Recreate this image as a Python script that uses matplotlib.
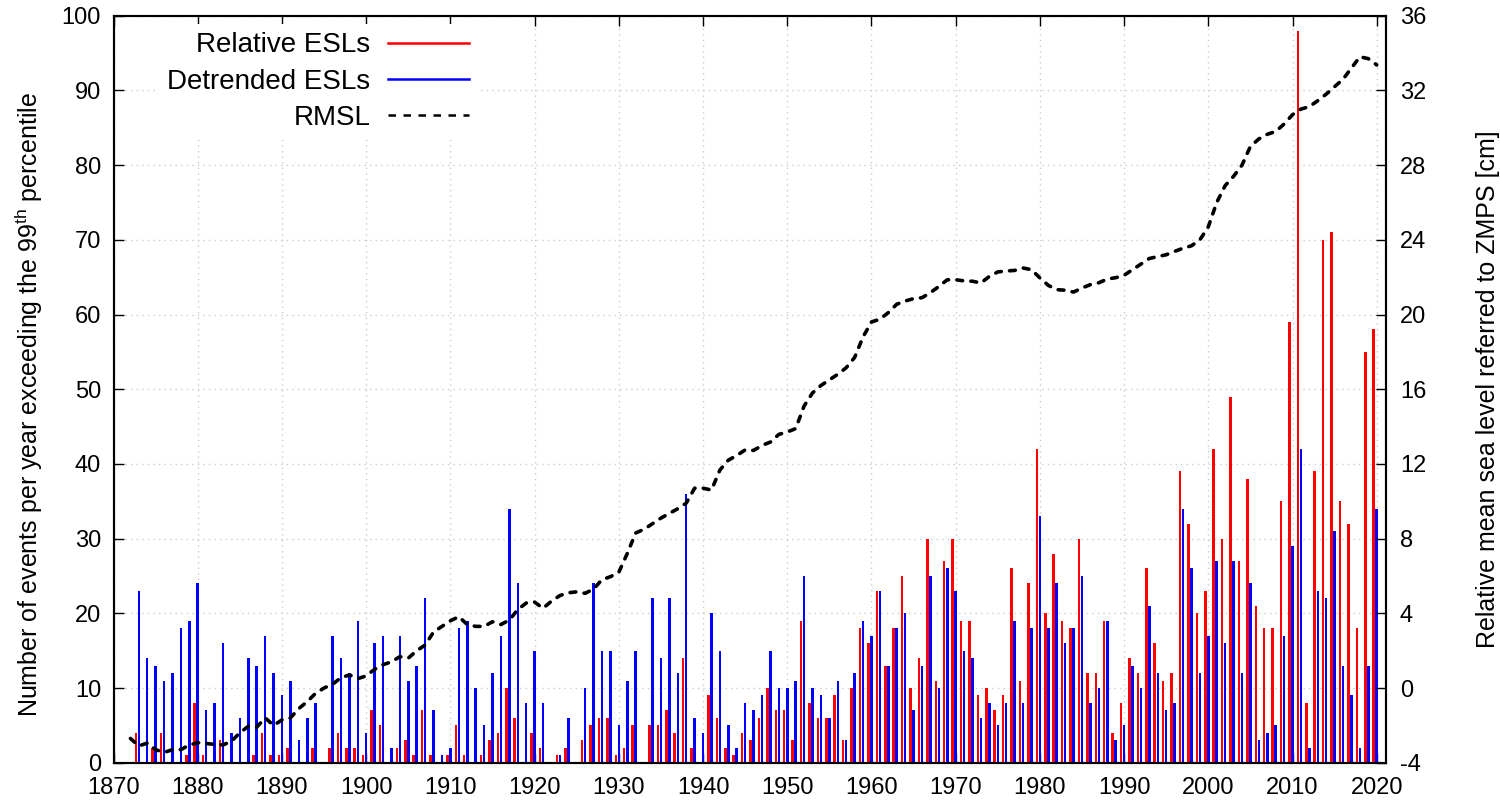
import matplotlib
matplotlib.use("Agg")
import matplotlib.pyplot as plt
import numpy as np
from matplotlib.lines import Line2D

plt.rcParams['font.family'] = ['Liberation Sans', 'DejaVu Sans']
plt.rcParams['axes.unicode_minus'] = False
plt.rcParams['mathtext.fontset'] = 'custom'
plt.rcParams['mathtext.rm'] = 'Liberation Sans'
plt.rcParams['mathtext.it'] = 'Liberation Sans'

years = list(range(1872, 2021))

relative_esl = [
    0, 4, 0, 2, 4, 0, 0, 1, 8, 1,        # 1872-1881
    0, 3, 0, 0, 0, 1, 4, 1, 1, 2,        # 1882-1891
    0, 0, 2, 0, 2, 4, 2, 2, 1, 7,        # 1892-1901
    5, 0, 2, 3, 1, 7, 1, 0, 1, 5,        # 1902-1911
    1, 0, 1, 3, 4, 10, 6, 0, 4, 2,       # 1912-1921
    0, 1, 2, 0, 3, 5, 6, 6, 1, 2,        # 1922-1931
    5, 0, 5, 5, 7, 4, 14, 2, 0, 9,       # 1932-1941
    6, 2, 1, 4, 3, 6, 10, 7, 7, 3,       # 1942-1951
    19, 8, 6, 6, 9, 3, 10, 18, 16, 23,  # 1952-1961
    13, 18, 25, 10, 14, 30, 11, 27, 30, 19,  # 1962-1971
    19, 9, 10, 7, 9, 26, 11, 24, 42, 20,     # 1972-1981
    28, 19, 18, 30, 12, 12, 19, 4, 8, 14,    # 1982-1991
    12, 26, 16, 11, 12, 39, 32, 20, 23, 42,  # 1992-2001
    30, 49, 27, 38, 21, 18, 18, 35, 59, 98,  # 2002-2011
    8, 39, 70, 71, 35, 32, 18, 55, 58,       # 2012-2020
]

detrended_esl = [
    0, 23, 14, 13, 11, 12, 18, 19, 24, 7,    # 1872-1881
    8, 16, 4, 6, 14, 13, 17, 12, 9, 11,      # 1882-1891
    3, 6, 8, 0, 17, 14, 12, 19, 4, 16,       # 1892-1901
    17, 2, 17, 11, 13, 22, 7, 1, 2, 18,      # 1902-1911
    19, 10, 5, 12, 17, 34, 24, 8, 15, 8,     # 1912-1921
    0, 1, 6, 0, 10, 24, 15, 15, 5, 11,       # 1922-1931
    15, 0, 22, 14, 22, 12, 36, 6, 4, 20,     # 1932-1941
    15, 5, 2, 8, 7, 9, 15, 10, 10, 11,       # 1942-1951
    25, 10, 9, 6, 11, 3, 12, 19, 17, 23,     # 1952-1961
    13, 18, 20, 7, 13, 25, 10, 26, 23, 15,   # 1962-1971
    14, 6, 8, 5, 8, 19, 8, 18, 33, 18,       # 1972-1981
    24, 16, 18, 25, 8, 10, 19, 3, 5, 13,     # 1982-1991
    10, 21, 12, 7, 8, 34, 26, 12, 17, 27,    # 1992-2001
    16, 27, 12, 24, 3, 4, 5, 17, 29, 42,     # 2002-2011
    2, 23, 22, 31, 13, 9, 2, 13, 34,         # 2012-2020
]

rmsl = [
    -2.7, -3.1, -2.95, -3.3, -3.45, -3.3, -3.3, -3.05, -2.93, -2.97,   # 1872-1881
    -3.02, -3.05, -2.85, -2.4, -2.05, -2.1, -1.6, -2.0, -1.71, -1.6,   # 1882-1891
    -1.1, -0.73, -0.28, 0.0, 0.2, 0.55, 0.7, 0.5, 0.65, 1.0,           # 1892-1901
    1.25, 1.4, 1.68, 1.6, 2.0, 2.3, 3.0, 3.3, 3.6, 3.82,               # 1902-1911
    3.4, 3.3, 3.3, 3.55, 3.4, 3.64, 4.2, 4.55, 4.6, 4.27,              # 1912-1921
    4.65, 4.95, 5.1, 5.15, 5.07, 5.3, 5.8, 5.96, 6.2, 7.2,             # 1922-1931
    8.3, 8.5, 8.8, 9.1, 9.35, 9.6, 9.9, 10.7, 10.7, 10.6,              # 1932-1941
    11.67, 12.2, 12.45, 12.75, 12.72, 12.99, 13.17, 13.58, 13.71, 13.89,  # 1942-1951
    15.1, 15.8, 16.2, 16.5, 16.8, 17.15, 17.7, 18.8, 19.6, 19.75,      # 1952-1961
    20.1, 20.55, 20.72, 20.85, 20.9, 21.17, 21.5, 21.86, 21.86, 21.8,  # 1962-1971
    21.78, 21.69, 22.04, 22.28, 22.33, 22.36, 22.49, 22.4, 21.96, 21.56,  # 1972-1981
    21.33, 21.3, 21.2, 21.42, 21.6, 21.7, 21.9, 21.97, 22.1, 22.4,     # 1982-1991
    22.7, 23.0, 23.1, 23.2, 23.38, 23.55, 23.68, 24.0, 24.7, 26.0,     # 1992-2001
    26.9, 27.4, 28.0, 29.0, 29.4, 29.65, 29.8, 30.2, 30.7, 31.0,       # 2002-2011
    31.13, 31.45, 31.8, 32.2, 32.6, 33.2, 33.8, 33.7, 33.36,           # 2012-2020
]

x_ticks = list(range(1870, 2021, 10))
left_ticks = list(range(0, 101, 10))
right_ticks = list(range(-4, 37, 4))

fig = plt.figure(figsize=(15, 8.01), dpi=100)
ax = fig.add_axes([0.0757, 0.0478, 0.9240 - 0.0757, 0.9804 - 0.0478])

yrs = np.array(years)
bar_w = 0.30
ax.bar(yrs - 0.36, relative_esl, width=bar_w, color='#ff0000', linewidth=0, zorder=3)
ax.bar(yrs, detrended_esl, width=bar_w, color='#0000ff', linewidth=0, zorder=3)

ax.set_xlim(1870, 2021.1)
ax.set_ylim(0, 100)
ax.set_xticks(x_ticks)
ax.set_yticks(left_ticks)
ax.grid(True, linestyle=(0, (1, 3)), color='#cccccc', linewidth=1.0, zorder=0)
ax.set_axisbelow(True)
ax.tick_params(axis='x', direction='in', length=7, width=1, top=True, labelsize=17, pad=10)
ax.tick_params(axis='y', direction='in', length=7, width=1, right=False, labelsize=17, pad=9)
for s in ax.spines.values():
    s.set_linewidth(1.5)
ax.set_ylabel('Number of events per year exceeding the 99$^{\\mathrm{th}}$ percentile',
              fontsize=18, labelpad=12)
ax.yaxis.label.set_y(0.479)

ax2 = ax.twinx()
ax2.plot(years, rmsl, color='black', linewidth=2.6, linestyle=(0, (1.6, 2.3)),
         dash_capstyle='round', zorder=4)
ax2.set_ylim(-4, 36)
ax2.set_yticks(right_ticks)
ax2.tick_params(axis='y', direction='in', length=7, width=1, labelsize=17, pad=10)
for s in ax2.spines.values():
    s.set_linewidth(1.5)
ax2.set_ylabel('Relative mean sea level referred to ZMPS [cm]', fontsize=18, labelpad=36)

handles = [
    Line2D([], [], color='#ff0000', linewidth=1.8),
    Line2D([], [], color='#0000ff', linewidth=1.8),
    Line2D([], [], color='black', linewidth=1.8, linestyle=(0, (3.0, 3.0))),
]
labels = ['Relative ESLs', 'Detrended ESLs', 'RMSL']
leg = ax2.legend(handles, labels, loc='upper right', bbox_to_anchor=(0.2857, 0.989),
                 markerfirst=False, fontsize=20, frameon=True, framealpha=1.0,
                 edgecolor='none', facecolor='white', fancybox=False,
                 handlelength=2.9, handletextpad=0.65, labelspacing=0.37,
                 borderpad=0.3, borderaxespad=0)
leg.set_zorder(10)

fig.savefig('out.png', dpi=100)
